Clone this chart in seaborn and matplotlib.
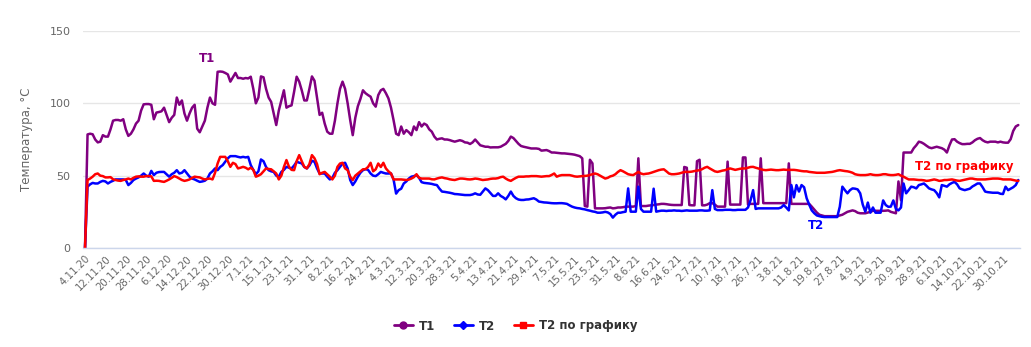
import matplotlib
matplotlib.use("Agg")
import matplotlib.pyplot as plt
from matplotlib.lines import Line2D
import seaborn as sns
import pandas as pd
import numpy as np

start_date = "2020-11-04"
series_names = ["T1", "T2", "T2 по графику"]
series_colors = ["#800080", "#0000FF", "#FF0000"]

t1 = [
    0, 78.5, 79, 78.6, 75, 73, 73.5, 78, 77, 77,
    82, 88, 88.5, 88.5, 88, 89, 82, 77.5, 79, 82,
    86, 88, 95, 99.3, 99.5, 99.5, 99, 89, 93.6, 94,
    94.5, 97, 92, 87, 90, 92, 104, 99, 102, 93,
    88, 93, 97, 99, 82.5, 80, 84, 88, 97, 104,
    100, 99, 121.8, 122, 121.8, 121, 120, 115, 118, 121,
    117.5, 117.5, 117, 117.5, 117.2, 118.4, 110, 100, 104, 118.6,
    118, 110, 104, 101, 93, 85, 95, 102, 109, 97,
    98, 98.6, 108, 118.4, 115, 109, 102, 102, 110, 118.6,
    115.6, 104, 92, 93.5, 86, 80.4, 79, 79, 88, 100,
    110, 115, 110, 100, 88.4, 78, 90, 98, 103, 109,
    107, 105.7, 104.6, 100, 97.7, 105.7, 109, 110, 107, 103.4,
    97, 88.4, 79, 78, 84, 79, 81.5, 80, 78, 84,
    81.5, 87, 84, 86, 85, 82, 80.4, 77, 75, 75.5,
    75.8, 75, 75, 74.6, 74, 73.5, 74, 74.5, 74, 73,
    72.8, 71.9, 73, 75, 73, 71, 70.5, 70, 70, 69.5,
    69.6, 69.6, 69.6, 70, 71, 72, 74, 77, 76, 74,
    72, 70.5, 70, 69.6, 69.2, 68.8, 68.8, 68.8, 68.5, 67.3,
    67.5, 67.7, 67, 66, 66, 65.8, 65.6, 65.4, 65.4, 65.2,
    65, 64.8, 64.5, 64, 63.5, 62, 29, 28.6, 61, 58.5,
    27.4, 27.4, 27.4, 27.4, 27.5, 27.8, 28, 27.4, 27.6, 28,
    28, 28.2, 28.6, 28.6, 28.6, 28.6, 29, 62, 29, 29,
    29, 29.3, 29.5, 29.7, 30, 30.2, 30.5, 30.5, 30.3, 30,
    29.8, 29.7, 29.7, 29.7, 29.7, 56, 55.5, 29.7, 29.5, 29.5,
    60, 61, 29.5, 29.5, 30, 31, 31, 30, 28.6, 28.6,
    28.6, 28.6, 59.7, 30, 30, 30, 30, 30, 62.6, 62.6,
    30, 30.5, 30.5, 30.5, 30.5, 62, 31, 31, 31, 31,
    31, 31, 31, 31, 31, 31, 58.5, 30.5, 30.5, 30.5,
    30.5, 30.5, 30.5, 30.5, 30.5, 28.6, 26.5, 24.5, 23, 22.5,
    22, 22, 22, 22, 22, 22, 22.5, 23, 24, 25,
    25.5, 26, 25.5, 24.4, 24, 24, 24, 24.5, 25, 25.7,
    25.7, 25.7, 25.7, 25.7, 25.8, 26, 25, 24.5, 24, 46,
    33, 66, 66, 66, 66, 69, 71, 73.5, 73, 72,
    70.7, 69.5, 69, 69.5, 70, 69.5, 69, 68, 66, 71,
    75, 75.2, 73.5, 72.5, 71.8, 71.8, 72, 72, 73, 74.5,
    75.5, 76, 74.5, 73.5, 73, 73.5, 73.5, 73.5, 73, 73.5,
    73, 72.8, 72.8, 75.2, 80.9, 84, 85,
]

t2 = [
    0, 42.4, 44, 45, 44.6, 44.6, 45.7, 46.4, 46, 44.6,
    45.7, 46.5, 47.4, 47.4, 47.4, 47.4, 47, 43.5, 45, 47,
    48, 48.8, 50, 51.5, 50, 49.3, 53.3, 50.4, 52, 52.5,
    52.6, 52.6, 51, 49.3, 51, 52, 53.8, 51.5, 52, 53.8,
    51.5, 49.3, 48, 47.4, 46.5, 45.7, 46, 46.5, 48, 51.5,
    53, 55, 53.8, 56, 57.3, 59.6, 62, 63.5, 63.5, 63.5,
    63, 62.6, 63, 62.6, 63, 57.3, 54, 51, 53, 61.2,
    60, 56, 53.8, 53, 52.6, 50, 49.3, 52.6, 54, 56.1,
    55.5, 55, 57, 59.6, 59, 58.5, 56, 55, 57, 60.3,
    59.6, 55, 51.5, 51.5, 51.5, 49.3, 47.4, 48.5, 52, 53.8,
    56.1, 58.4, 58.9, 55, 47, 43.5, 46, 49.3, 52, 53.8,
    54.5, 54, 51.5, 50, 49.7, 51, 52.6, 52, 51.5, 51.5,
    51.5, 47.4, 37.6, 40, 41, 44.6, 46, 48, 49.3, 49.7,
    50.4, 48.5, 45.5, 45, 44.8, 44.6, 44.3, 43.8, 43.5, 41,
    39, 38.8, 38.5, 38.2, 37.8, 37.3, 37.2, 37, 36.8, 36.6,
    36.6, 36.6, 37, 37.8, 37, 36.8, 39, 41.2, 40, 38,
    36, 36, 37.8, 36, 35, 33.6, 36, 39, 36, 34.4,
    33.5, 33.2, 33.2, 33.5, 33.6, 34, 34.4, 33.5, 32.1, 31.8,
    31.5, 31.4, 31.2, 31, 30.9, 30.9, 31, 31, 30.8, 30.5,
    29.5, 28.6, 28, 27.6, 27.4, 27, 26.7, 26.2, 25.8, 25.3,
    25, 24.4, 24.4, 24.6, 25, 24.6, 23.5, 21, 23, 24.4,
    24.4, 24.8, 25.1, 41.2, 25.1, 25.1, 25.1, 42.4, 27, 25.1,
    25.1, 25.1, 25.1, 41, 25.1, 25.5, 25.8, 25.8, 25.6, 25.8,
    25.8, 26, 25.8, 25.8, 25.6, 25.8, 26, 25.8, 25.8, 25.8,
    25.8, 26, 26, 25.8, 25.8, 26, 40, 27, 26.2, 26.2,
    26.2, 26.4, 26.4, 26.4, 26.2, 26.2, 26.4, 26.4, 26.4, 26.4,
    28, 33, 40, 27, 27.4, 27.4, 27.4, 27.4, 27.4, 27.4,
    27.4, 27.4, 27.4, 28, 29.7, 28, 26, 43.5, 35, 43.5,
    39, 43.5, 42, 34.4, 30, 26, 24, 22.5, 22, 21.6,
    21.4, 21.4, 21.4, 21.4, 21.4, 21.4, 28.6, 42.4, 40, 37.8,
    40, 41.2, 41, 40.5, 37.8, 30, 25.1, 31.4, 24.4, 28,
    24.4, 24.4, 24.4, 32.9, 29.7, 28.5, 28.6, 32.9, 27, 26,
    28, 44.6, 37.8, 40, 42.4, 42, 41.2, 43.5, 44, 44.6,
    43, 41.2, 40.5, 40, 38, 35, 43.5, 43, 42.4, 44,
    45, 45.7, 44, 41.2, 40.5, 40, 40.5, 41, 42.5, 43.5,
    44.6, 44.6, 42, 39, 38.6, 38.4, 38.2, 38.2, 38.2, 37.5,
    37.3, 42.4, 40, 41, 42, 43.5, 47,
]

t2_sched = [
    0, 47, 48, 49.3, 51, 51.5, 50, 49.7, 48.8, 48.8,
    49, 47.5, 47, 46.6, 46.4, 47, 47.4, 48, 47.4, 48.5,
    49.3, 49.5, 49.3, 49.3, 49.7, 49.7, 49.5, 46.4, 46.5, 46.4,
    46, 45.7, 46.5, 47.4, 48.5, 49.7, 49, 48, 47, 46.4,
    46.8, 47.4, 48.5, 49.3, 49, 48.8, 48, 47.4, 47.8, 48,
    47.4, 52, 58.4, 63, 63, 63, 60, 56.1, 58.9, 58,
    55, 55.5, 56.1, 55.5, 54.4, 55.5, 54, 49.3, 50, 51,
    53, 55, 54.6, 54.4, 53, 51.5, 47.4, 50, 56, 60.8,
    56.1, 54, 53.8, 60, 64.2, 60, 56.1, 55, 58, 64.2,
    62, 58, 51, 52, 52.6, 51, 49.3, 47.4, 50, 56.1,
    58.4, 58.9, 55, 53.8, 49.3, 47, 50, 51.5, 53, 54.4,
    54.5, 56, 58.9, 53, 54.4, 58.4, 56, 58.9, 55, 53,
    51.5, 47.4, 47.4, 47.4, 47.4, 47.2, 47, 47.3, 48, 49,
    51, 48.5, 48, 48, 48, 48, 47.5, 47.4, 48, 48.5,
    48.8, 48.3, 48, 47.5, 47.2, 47, 47.5, 48, 48, 47.8,
    47.5, 47.4, 47.6, 48, 47.8, 47.4, 47, 47.2, 47.4, 47.8,
    48, 48, 48.3, 49, 49.3, 48, 47, 46.4, 47.5, 48.5,
    49.3, 49.3, 49.3, 49.5, 49.5, 49.7, 49.7, 49.7, 49.5, 49.3,
    49.5, 49.7, 49.7, 50.5, 51.5, 49.3, 50, 50.4, 50.4, 50.4,
    50.4, 50, 49.5, 49.3, 49.5, 49.7, 49.8, 50, 50.5, 51,
    51.5, 51, 50, 49, 48, 48.5, 49.5, 50, 51, 52.6,
    53.8, 53, 52, 51, 50.6, 50.4, 51.5, 52.6, 51.5, 51,
    51.3, 51.5, 52, 52.6, 53.2, 53.8, 54.2, 54.4, 53, 51.5,
    51, 51, 51.2, 51.5, 52, 52.6, 52.6, 52.6, 52.8, 53.2,
    53.5, 53.8, 54.5, 55.5, 56.1, 55, 54, 53, 52.6, 53,
    53.5, 53.8, 54.5, 55, 54.5, 54, 54.4, 54.8, 55, 55,
    55.5, 56, 56.1, 55.5, 55, 54.5, 54, 53.8, 54, 54.2,
    54, 53.8, 53.8, 54, 54.2, 54, 54, 54, 54, 53.8,
    53.5, 53.2, 53, 53, 52.6, 52.4, 52.2, 52, 52, 52,
    52, 52.2, 52.4, 52.6, 53, 53.5, 53.8, 53.5, 53.2, 53,
    52.6, 52, 51, 50.6, 50.4, 50.4, 50.4, 50.6, 51, 50.6,
    50.4, 50.4, 50.6, 51, 51, 50.6, 50.4, 50.4, 50.6, 51,
    50, 49.3, 48.3, 47.4, 47.4, 47.4, 47.2, 47, 47, 46.8,
    46.4, 46.6, 47, 47.4, 47, 46.4, 46.6, 47, 47, 47.2,
    47.4, 47, 46.6, 46.4, 46.8, 47.2, 47.6, 48, 48, 47.6,
    47.4, 47.4, 47.4, 47.4, 47.6, 47.8, 48, 48, 48, 47.8,
    47.4, 47.4, 47.4, 47.4, 47, 46.6, 46.4,
]

n = min(len(t1), len(t2), len(t2_sched))
dates = pd.date_range(start_date, periods=n, freq="D")

df = pd.concat([
    pd.DataFrame({"date": dates, "value": vals[:n], "series": name})
    for name, vals in zip(series_names, [t1, t2, t2_sched])
], ignore_index=True)

sns.set_theme(style="white")
plt.rcParams["font.family"] = ["DejaVu Sans"]

W, H = 1031, 347
fig = plt.figure(figsize=(W / 100, H / 100), dpi=100)
ax_left, ax_right, ax_top, ax_bot = 83, 1020, 31, 248
ax = fig.add_axes([ax_left / W, 1 - ax_bot / H, (ax_right - ax_left) / W, (ax_bot - ax_top) / H])

sns.lineplot(data=df, x="date", y="value", hue="series", hue_order=series_names,
             palette=dict(zip(series_names, series_colors)), linewidth=1.8,
             legend=False, ax=ax)

px_per_day = 2.55
x0 = dates[0]
ax.set_xlim(x0 - pd.Timedelta(days=(85 - ax_left) / px_per_day),
            x0 + pd.Timedelta(days=(ax_right - 85) / px_per_day))
ax.set_ylim(0, 150)
ax.set_yticks([0, 50, 100, 150])
ax.grid(axis="y", color="#e6e6e6", linewidth=1)
ax.grid(axis="x", visible=False)
for s in ["top", "right", "left"]:
    ax.spines[s].set_visible(False)
ax.spines["bottom"].set_color("#ccd6eb")
ax.spines["bottom"].set_linewidth(1)
ax.tick_params(axis="y", length=0, pad=9, labelsize=8, labelcolor="#666666")

tick_dates = dates[::8]
tick_labels = [f"{d.day}.{d.month}.{d.strftime('%y')}" for d in tick_dates]
ax.set_xticks(tick_dates)
ax.set_xticklabels(tick_labels, rotation=45, ha="right", rotation_mode="anchor",
                   fontsize=7.3, color="#666666")
ax.tick_params(axis="x", length=0, pad=4)
ax.set_xlabel("")
ax.set_ylabel("Температура, °C", fontsize=8.5, color="#666666", labelpad=12)

# data labels
ax.text(x0 + pd.Timedelta(days=47.8), 131, "T1", color="#800080", fontsize=8.5,
        fontweight="bold", ha="center", va="center")
ax.text(x0 + pd.Timedelta(days=286.5), 15.5, "T2", color="#0000FF", fontsize=8.5,
        fontweight="bold", ha="center", va="center")
ax.text(x0 + pd.Timedelta(days=345), 56, "T2 по графику", color="#FF0000", fontsize=8.5,
        fontweight="bold", ha="center", va="center")

handles = [
    Line2D([0], [0], color=series_colors[0], lw=2, marker="o", markersize=5),
    Line2D([0], [0], color=series_colors[1], lw=2, marker="D", markersize=4),
    Line2D([0], [0], color=series_colors[2], lw=2, marker="s", markersize=5),
]
leg = fig.legend(handles, series_names, loc="center", bbox_to_anchor=(0.5, 1 - 326 / H),
                 ncol=3, frameon=False, fontsize=8.5, handlelength=1.6,
                 handletextpad=0.5, columnspacing=1.6)
for t in leg.get_texts():
    t.set_color("#333333")
    t.set_fontweight("bold")

fig.savefig("out.png", dpi=100)
